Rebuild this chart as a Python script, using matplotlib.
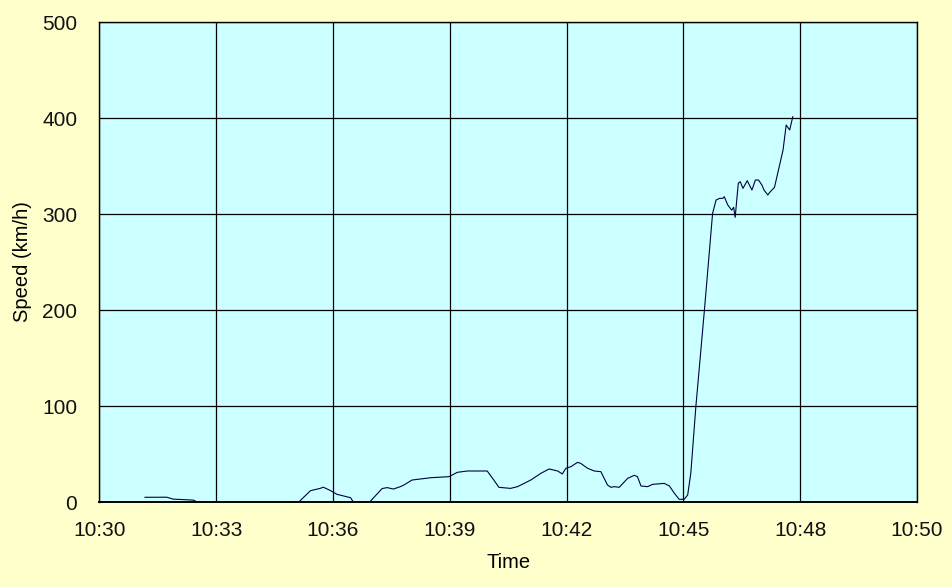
import matplotlib
matplotlib.use("Agg")
import matplotlib.pyplot as plt

# minutes after 10:30
minutes = [1.17, 1.73, 1.89, 2.41, 2.51, 5.12, 5.42, 5.67, 5.75, 5.93, 6.10, 6.45, 6.52,
           6.94, 7.26, 7.39, 7.55, 7.73, 7.82, 8.03, 8.25, 8.51, 8.98, 9.19, 9.45, 9.96,
           10.13, 10.26, 10.56, 10.74, 11.08, 11.34, 11.55, 11.77, 11.89, 11.98, 12.11,
           12.28, 12.36, 12.54, 12.71, 12.88, 13.05, 13.14, 13.22, 13.35, 13.57, 13.74,
           13.82, 13.91, 14.08, 14.21, 14.51, 14.64, 14.77, 14.89, 15.02, 15.11, 15.19,
           15.32, 15.54, 15.75, 15.84, 15.93, 16.01, 16.05, 16.14, 16.24, 16.29, 16.33,
           16.41, 16.46, 16.53, 16.64, 16.76, 16.85, 16.93, 17.02, 17.07, 17.17, 17.21,
           17.34, 17.56, 17.64, 17.73, 17.81]
speed = [4.9, 5.0, 3.0, 2.0, 0.0, 0.0, 11.8, 14.2, 15.4, 12.0, 8.0, 4.5, 0.0,
         0.0, 14.0, 15.0, 13.5, 16.0, 17.7, 22.9, 24.0, 25.3, 26.4, 30.9, 32.3, 32.3,
         22.9, 15.3, 14.2, 16.0, 22.9, 29.9, 34.4, 32.3, 29.2, 35.1, 36.8,
         41.3, 40.3, 35.1, 32.3, 31.6, 17.7, 15.3, 16.0, 15.3, 24.7, 27.8,
         26.4, 16.7, 16.0, 18.4, 19.4, 16.7, 9.0, 2.8, 2.8, 7.3, 29.9,
         99.3, 200.0, 300.7, 314.6, 316.3, 316.3, 318.0, 309.4, 304.0, 307.0, 296.5,
         332.0, 333.7, 326.7, 334.7, 325.0, 335.4, 335.4, 330.0, 325.0, 319.8, 322.2,
         327.8, 366.7, 392.7, 387.5, 401.4]

x_ticks = [0, 3, 6, 9, 12, 15, 18, 21]
x_tick_labels = ["10:30", "10:33", "10:36", "10:39", "10:42", "10:45", "10:48", "10:50"]
y_ticks = [0, 100, 200, 300, 400, 500]

plt.rcParams['font.family'] = ['Arial', 'Liberation Sans', 'DejaVu Sans']

fig = plt.figure(figsize=(9.52, 5.87), dpi=100, facecolor='#FFFFCC')
ax = fig.add_axes([0.1045, 0.1448, 0.8587, 0.8177])
ax.set_facecolor('#CCFFFF')

ax.plot(minutes, speed, color='#000040', linewidth=0.8, zorder=2)

ax.set_xlim(0, 21)
ax.set_ylim(0, 500)
ax.set_xticks(x_ticks)
ax.set_xticklabels(x_tick_labels)
ax.set_yticks(y_ticks)
ax.grid(True, color='black', linewidth=0.9)
ax.set_axisbelow(True)
for s in ax.spines.values():
    s.set_color('black')
    s.set_linewidth(1.0)
    s.set_zorder(4)
ax.spines['bottom'].set_linewidth(1.4)

ax.tick_params(axis='both', length=0, labelsize=15, colors='#111111')
ax.tick_params(axis='x', pad=14)
ax.tick_params(axis='y', pad=16)

ax.set_xlabel('Time', fontsize=14.5, labelpad=9)
ax.set_ylabel('Speed (km/h)', fontsize=14.5, labelpad=7)

fig.savefig('out.png', dpi=100, facecolor=fig.get_facecolor())
